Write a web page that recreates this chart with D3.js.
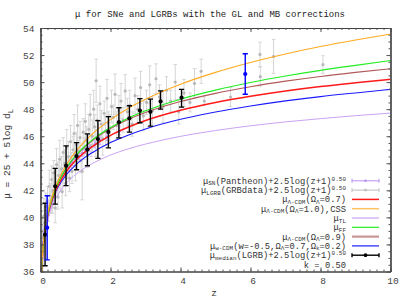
<!DOCTYPE html>
<html><head><meta charset="utf-8">
<script src="https://cdn.jsdelivr.net/npm/d3@7"></script>
<style>body{margin:0;background:#fff}</style>
</head><body>
<svg id="c" width="407" height="301"></svg>
<script>
// ---------------- DATA ----------------
const zGrid = [0.03,0.05,0.075,0.1,0.15,0.2,0.3,0.4,0.5,0.75,1,1.25,1.5,2,2.5,3,4,5,6,7,8,9,10];
const muLCDM07 = [35.67,36.84,37.76,38.41,39.37,40.06,41.06,41.78,42.36,43.44,44.2,44.79,45.27,46.06,46.66,47.16,47.92,48.49,48.95,49.34,49.67,49.95,50.21];
const muCSS    = [35.79,36.94,37.87,38.55,39.52,40.24,41.29,42.08,42.71,43.93,44.84,45.58,46.21,47.23,48.05,48.73,49.84,50.72,51.45,52.08,52.63,53.11,53.55];
const muTL     = [35.6,36.7,37.58,38.21,39.09,39.71,40.59,41.21,41.69,42.56,43.17,43.63,44.01,44.61,45.06,45.42,45.99,46.42,46.77,47.06,47.3,47.52,47.71];
const muFF     = [35.71,36.86,37.78,38.45,39.42,40.13,41.17,41.93,42.54,43.7,44.55,45.22,45.77,46.64,47.33,47.88,48.74,49.41,49.97,50.45,50.87,51.24,51.59];
const muLCDM09 = [35.71,36.86,37.78,38.45,39.42,40.13,41.16,41.92,42.53,43.68,44.52,45.18,45.72,46.57,47.23,47.75,48.56,49.17,49.66,50.07,50.42,50.72,50.99];
const muWCDM   = [36.07,37.19,38.06,38.66,39.52,40.14,41.06,41.72,42.24,43.19,43.87,44.4,44.82,45.53,46.08,46.54,47.25,47.79,48.23,48.61,48.93,49.2,49.46];

// GRB data
const grbZ   = [0.03,0.06,0.085,0.1,0.12,0.15,0.17,0.2,0.23,0.25,0.28,0.3,0.32,0.34,0.36,0.38,0.4,0.42,0.44,0.46,0.48,0.5,0.52,0.55,0.57,0.6,0.62,0.65,0.67,0.7,0.72,0.75,0.78,0.8,0.83,0.86,0.88,0.9,0.93,0.96,0.98,1.0,1.03,1.06,1.1,1.13,1.16,1.19,1.22,1.25,1.28,1.31,1.35,1.38,1.42,1.45,1.48,1.52,1.55,1.58,1.59,1.62,1.66,1.7,1.74,1.78,1.82,1.86,1.9,1.94,1.98,2.03,2.08,2.13,2.18,2.24,2.3,2.36,2.42,2.48,2.55,2.62,2.7,2.78,2.86,2.94,3.03,3.12,3.2,3.3,3.4,3.5,3.6,3.72,3.85,3.95,4.1,4.27,4.4,4.59,4.68,5.43,6.27,6.28,6.66,8.07];
const grbMu  = [37.2,39.0,38.6,40.1,39.6,40.8,39.9,41.2,40.5,42.3,41.6,40.9,42.8,41.1,42.0,43.3,41.8,40.7,42.6,43.9,42.2,41.5,43.1,44.3,42.7,43.6,41.9,44.8,43.2,44.0,42.5,45.2,43.7,44.5,42.9,45.6,44.1,43.4,45.0,46.2,44.6,43.8,45.4,46.8,44.9,45.9,44.2,43.4,46.3,45.1,47.1,45.7,44.6,46.5,47.6,45.3,46.0,48.0,46.7,45.5,50.1,47.2,46.1,48.4,46.9,45.8,47.7,46.4,48.8,47.0,46.6,48.2,47.4,49.1,46.8,47.9,48.6,47.2,49.35,47.8,48.3,46.9,49.0,48.0,49.6,47.5,48.5,49.8,47.9,50.25,48.9,48.2,49.4,48.6,50.0,47.8,49.2,48.5,49.9,50.8,48.6,48.9,52.05,50.4,51.9,51.3];
const grbErr = [0.9,1.1,0.8,1.3,0.9,1.0,0.7,1.1,0.8,1.2,0.9,0.6,1.0,0.8,1.3,0.9,0.7,1.1,0.8,1.2,0.6,0.9,1.0,1.4,0.8,0.9,1.2,1.1,0.7,1.0,0.9,1.3,0.8,1.1,1.0,1.2,0.7,0.9,1.0,1.4,0.8,1.1,0.9,1.5,0.8,1.2,0.9,2.1,1.0,0.8,1.3,1.0,0.9,1.1,1.5,0.8,1.2,1.4,0.9,1.0,1.6,1.1,0.8,1.3,1.0,1.2,0.9,1.1,1.4,0.8,1.0,1.2,0.9,1.5,1.0,1.1,1.3,0.9,1.2,1.0,1.1,0.9,1.3,1.0,1.2,1.1,0.9,1.4,1.0,1.1,0.9,1.2,1.0,0.8,1.3,0.9,1.0,0.7,1.1,0.9,0.3,0.7,0.9,0.7,1.25,0.65];

// Pantheon SNe
const snZ   = [0.035,0.04,0.045,0.05,0.055,0.06,0.065,0.07,0.08,0.09,0.1,0.11,0.12,0.13,0.14,0.15,0.16,0.17,0.18,0.19,0.2,0.22,0.24,0.26,0.28,0.3,0.32,0.34,0.36,0.38,0.4,0.43,0.46,0.5,0.54,0.58,0.62,0.66,0.7,0.75,0.8,0.86,0.92,1.0,1.1,1.2,1.3,1.4,1.55,1.7,1.9,2.26];
const snMu  = [36.1,36.35,36.6,36.9,37.0,37.3,37.4,37.6,37.95,38.2,38.5,38.7,38.95,39.1,39.3,39.35,39.6,39.7,39.85,39.95,40.1,40.3,40.55,40.7,40.9,41.1,41.2,41.4,41.5,41.7,41.8,42.0,42.15,42.4,42.6,42.8,43.0,43.15,43.3,43.5,43.65,43.9,44.05,44.3,44.5,44.75,44.95,45.15,45.4,45.7,45.95,46.4];
const snErr = [0.15,0.14,0.16,0.15,0.14,0.15,0.16,0.15,0.14,0.15,0.16,0.15,0.14,0.16,0.15,0.15,0.14,0.15,0.16,0.15,0.14,0.15,0.16,0.15,0.14,0.15,0.16,0.15,0.14,0.15,0.16,0.15,0.16,0.17,0.16,0.18,0.17,0.18,0.19,0.18,0.2,0.19,0.21,0.22,0.23,0.22,0.24,0.25,0.26,0.3,0.28,0.3];

// Median LGRB
const medZ  = [0.13,0.42,0.73,1.03,1.34,1.64,1.94,2.24,2.54,2.84,3.14,3.43,4.03];
const medMu = [38.72,42.3,43.82,44.53,45.02,45.79,46.32,47.04,47.33,47.9,47.8,48.57,48.85];
const medLo = [36.42,40.98,42.35,43.52,43.82,44.36,45.14,45.88,46.3,47.0,46.75,48.0,48.15];
const medHi = [41.05,43.62,45.29,45.53,46.17,47.15,47.45,48.1,48.25,48.78,48.74,49.35,49.46];

// extra blue points
const bluZ  = [0.19,5.85];
const bluMu = [39.24,50.6];
const bluLo = [36.86,49.1];
const bluHi = [41.6,52.1];

const xTicks = [0,2,4,6,8,10];
const yTicks = [36,38,40,42,44,46,48,50,52,54];
const titleText = "\u03bc for SNe and LGRBs with the GL and MB corrections";
const xLabel = "z";

const legendLabels = [
  [["\u03bc",""],["SN","sub"],["(Pantheon)+2.5log(z+1)",""],["0.50","sup"]],
  [["\u03bc",""],["LGRB","sub"],["(GRBdata)+2.5log(z+1)",""],["0.50","sup"]],
  [["\u03bc",""],["\u039b-CDM","sub"],["(\u03a9",""],["\u039b","sub"],["=0.7)",""]],
  [["\u03bc",""],["\u039b-CDM","sub"],["(\u03a9",""],["\u039b","sub"],["=1.0),CSS",""]],
  [["\u03bc",""],["TL","sub"]],
  [["\u03bc",""],["FF","sub"]],
  [["\u03bc",""],["\u039b-CDM","sub"],["(\u03a9",""],["\u039b","sub"],["=0.9)",""]],
  [["\u03bc",""],["w-CDM","sub"],["(w=-0.5,\u03a9",""],["\u039b","sub"],["=0.7,\u03a9",""],["k","sub"],["=0.2)",""]],
  [["\u03bc",""],["median","sub"],["(LGRB)+2.5log(z+1)",""],["0.50","sup"]],
  [["k = 0.50",""]]
];

// ---------------- DRAW ----------------
const svg = d3.select("#c");
const L=40.5, R=390.5, T=28, B=271.5;
const font = "'Liberation Mono', 'DejaVu Sans Mono', monospace";
const x = d3.scaleLinear().domain([0,10]).range([L,R]);
const y = d3.scaleLinear().domain([36,54]).range([B,T]);

svg.append("defs").append("clipPath").attr("id","clip")
  .append("rect").attr("x",L).attr("y",T).attr("width",R-L).attr("height",B-T);

svg.append("text").attr("x",210).attr("y",17).attr("text-anchor","middle")
  .attr("font-family",font).attr("font-size",9).attr("fill","#222").text(titleText);

const plot = svg.append("g").attr("clip-path","url(#clip)");

function errPts(g, zs, mus, los, his, o){
  const gg = g.append("g");
  zs.forEach((z,i)=>{
    const cx = x(z), y1 = y(los[i]), y2 = y(his[i]);
    gg.append("line").attr("x1",cx).attr("x2",cx).attr("y1",y1).attr("y2",y2)
      .attr("stroke",o.bar).attr("stroke-width",o.w);
    [y1,y2].forEach(yy=>gg.append("line").attr("x1",cx-o.cap).attr("x2",cx+o.cap)
      .attr("y1",yy).attr("y2",yy).attr("stroke",o.bar).attr("stroke-width",o.w));
    gg.append("circle").attr("cx",cx).attr("cy",y(mus[i])).attr("r",o.r).attr("fill",o.dot);
  });
}

errPts(plot, grbZ, grbMu, grbMu.map((m,i)=>m-grbErr[i]), grbMu.map((m,i)=>m+grbErr[i]),
  {bar:"#d6d6d6", w:1, cap:1.8, r:1.6, dot:"#b8b8b8"});
errPts(plot, snZ, snMu, snMu.map((m,i)=>m-snErr[i]), snMu.map((m,i)=>m+snErr[i]),
  {bar:"#c8aaf5", w:1, cap:1.5, r:1.4, dot:"#b08ef0"});

const curves = [
  {v:muTL, c:"#c9a3f2", w:1},
  {v:muWCDM, c:"#1a1aff", w:1.1},
  {v:muLCDM07, c:"#ff1a1a", w:1.5},
  {v:muLCDM09, c:"#b05a5a", w:1.1},
  {v:muFF, c:"#22ee22", w:1.1},
  {v:muCSS, c:"#ffaa22", w:1.1}
];
const line = d3.line().x((d,i)=>x(zGrid[i])).y(d=>y(d)).curve(d3.curveMonotoneX);
curves.forEach(c=>plot.append("path").attr("d",line(c.v)).attr("fill","none")
  .attr("stroke",c.c).attr("stroke-width",c.w));

errPts(plot, medZ, medMu, medLo, medHi, {bar:"#000", w:1.4, cap:2.6, r:2.1, dot:"#000"});
errPts(plot, bluZ, bluMu, bluLo, bluHi, {bar:"#0000ff", w:1.4, cap:2.6, r:2.1, dot:"#0000ff"});

const axCol = "#555";
function styleAx(g){ g.selectAll("path,line").attr("stroke",axCol); g.select(".domain").attr("stroke","#444").attr("stroke-width",1.2);
  g.selectAll("text").attr("font-family",font).attr("font-size",9.5).attr("fill","#444"); }
const minorX = d3.range(0,10.001,0.2), minorY = d3.range(36,54.001,0.5);
svg.append("g").attr("transform",`translate(0,${B})`).call(d3.axisBottom(x).tickValues(minorX).tickSize(-2).tickFormat("").tickSizeOuter(0)).call(styleAx);
svg.append("g").attr("transform",`translate(0,${T})`).call(d3.axisTop(x).tickValues(minorX).tickSize(-2).tickFormat("").tickSizeOuter(0)).call(styleAx);
svg.append("g").attr("transform",`translate(${L},0)`).call(d3.axisLeft(y).tickValues(minorY).tickSize(-2).tickFormat("").tickSizeOuter(0)).call(styleAx);
svg.append("g").attr("transform",`translate(${R},0)`).call(d3.axisRight(y).tickValues(minorY).tickSize(-2).tickFormat("").tickSizeOuter(0)).call(styleAx);
const gx = svg.append("g").attr("transform",`translate(0,${B})`).call(d3.axisBottom(x).tickValues(xTicks).tickSize(-4).tickPadding(6).tickSizeOuter(0)).call(styleAx);
gx.selectAll("text").attr("dx",2);
svg.append("g").attr("transform",`translate(0,${T})`).call(d3.axisTop(x).tickValues(xTicks).tickSize(-4).tickFormat("").tickSizeOuter(0)).call(styleAx);
svg.append("g").attr("transform",`translate(${L},0)`).call(d3.axisLeft(y).tickValues(yTicks).tickSize(-4).tickPadding(6).tickSizeOuter(0)).call(styleAx);
svg.append("g").attr("transform",`translate(${R},0)`).call(d3.axisRight(y).tickValues(yTicks).tickSize(-4).tickFormat("").tickSizeOuter(0)).call(styleAx);

svg.append("text").attr("x",214).attr("y",296).attr("text-anchor","middle")
  .attr("font-family",font).attr("font-size",9.5).attr("fill","#333").text(xLabel);
const yl = svg.append("text").attr("transform","translate(10,154) rotate(-90)").attr("text-anchor","middle")
  .attr("font-family",font).attr("font-size",9.5).attr("fill","#333");
yl.append("tspan").text("\u03bc = 25 + 5log d");
yl.append("tspan").attr("dy",2.5).attr("font-size",7).text("L");

// legend
const legX = 346, legY0 = 180.8, legDy = 9.3, sx1 = 352, sx2 = 379;
const legSym = [
  {t:"eb", c:"#b890f0", w:1},
  {t:"eb", c:"#bdbdbd", w:1},
  {t:"ln", c:"#ff1a1a", w:1.5},
  {t:"ln", c:"#ffc060", w:1.5},
  {t:"ln", c:"#c9a3f2", w:1.2},
  {t:"ln", c:"#22ee22", w:1.2},
  {t:"ln", c:"#c89696", w:2.2},
  {t:"ln", c:"#1a1aff", w:1.2},
  {t:"eb", c:"#000", w:1.4},
  null
];
const leg = svg.append("g");
legendLabels.forEach((segs,i)=>{
  const yy = legY0 + i*legDy;
  const t = leg.append("text").attr("x",legX).attr("y",yy+3).attr("text-anchor","end")
    .attr("font-family",font).attr("font-size",8.8).attr("fill","#333");
  let cur = 0;
  segs.forEach(([s,k])=>{
    const target = k==="sub"?1.5:(k==="sup"?-2.8:0);
    const ts = t.append("tspan").attr("dy",target-cur).text(s);
    if(k) ts.attr("font-size",6);
    cur = target;
  });
  const s = legSym[i];
  if(!s) return;
  leg.append("line").attr("x1",sx1).attr("x2",sx2).attr("y1",yy).attr("y2",yy).attr("stroke",s.c).attr("stroke-width",s.w);
  if(s.t==="eb"){
    [sx1,sx2].forEach(xx=>leg.append("line").attr("x1",xx).attr("x2",xx).attr("y1",yy-2).attr("y2",yy+2).attr("stroke",s.c).attr("stroke-width",s.w));
    leg.append("circle").attr("cx",(sx1+sx2)/2).attr("cy",yy).attr("r",s.c==="#000"?1.9:1.3).attr("fill",s.c);
  }
});
</script>
</body></html>
